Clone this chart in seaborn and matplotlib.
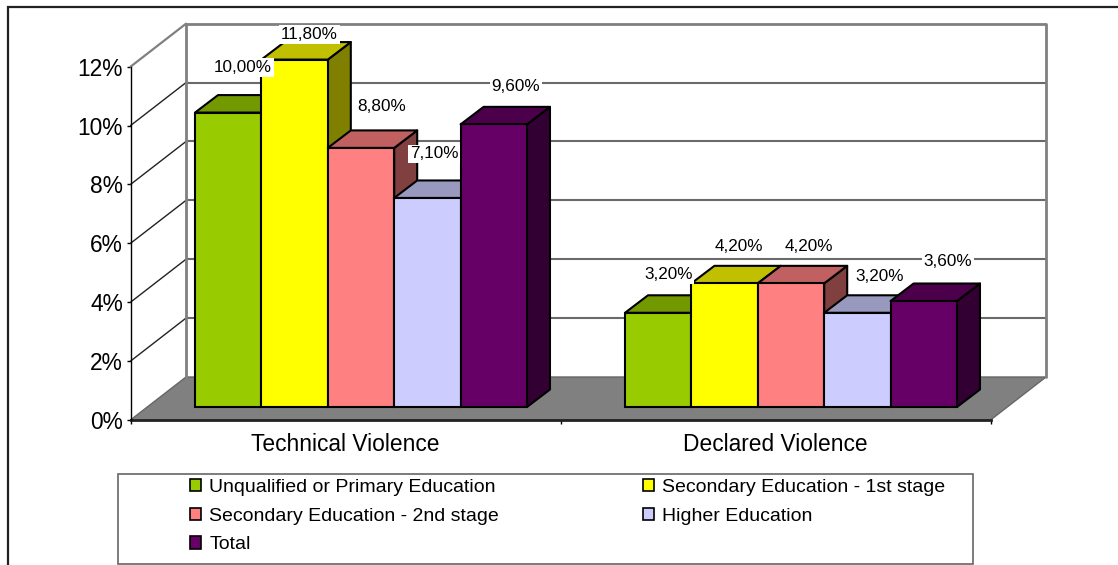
import matplotlib
matplotlib.use("Agg")
import matplotlib.pyplot as plt
import matplotlib.patches as mpatches
from matplotlib.lines import Line2D
from matplotlib.ticker import FuncFormatter, FixedLocator
import pandas as pd
import seaborn as sns

categories = ["Technical Violence", "Declared Violence"]
education = ["Unqualified or Primary Education", "Secondary Education - 1st stage",
             "Secondary Education - 2nd stage", "Higher Education", "Total"]
unqualified = [10.0, 3.2]
secondary_1 = [11.8, 4.2]
secondary_2 = [8.8, 4.2]
higher = [7.1, 3.2]
total = [9.6, 3.6]
y_ticks = [0, 2, 4, 6, 8, 10, 12]

front_colors = ["#99CC00", "#FFFF00", "#FF8080", "#CCCCFF", "#660066"]
top_colors = ["#739900", "#C0C000", "#C06060", "#9999C0", "#4C004C"]
side_colors = ["#4D6600", "#808000", "#804040", "#666680", "#330033"]

W, H = 1118, 565
sns.set_theme(style="white")
plt.rcParams["font.family"] = ["Liberation Sans", "DejaVu Sans"]
fig = plt.figure(figsize=(W / 100, H / 100), dpi=100, facecolor="white")

LEFT, RIGHT, BASE, TOP = 130.5, 990.5, 420.0, 66.7
ax = fig.add_axes([LEFT / W, 1 - BASE / H, (RIGHT - LEFT) / W, (BASE - TOP) / H])
ax.patch.set_alpha(0)

rows = []
for series, vals in zip(education, [unqualified, secondary_1, secondary_2, higher, total]):
    for cat, v in zip(categories, vals):
        rows.append({"category": cat, "education": series, "value": v})
df = pd.DataFrame(rows)

sns.barplot(data=df, x="category", y="value", hue="education", hue_order=education,
            order=categories, palette=front_colors, saturation=1, width=0.772, gap=0,
            edgecolor="black", linewidth=1.5, legend=False, ax=ax, err_kws={"linewidth": 0})

ax.set_xlim(-0.5, 1.5)
ax.set_ylim(0, 12)
px_x = (RIGHT - LEFT) / 2
px_y = (BASE - TOP) / 12

def dxpx(p):
    return p / px_x

def dypx(p):
    return p / px_y

# back wall, side wall and floor
wall_dx, wall_dy = dxpx(55.5), dypx(43)
x0, x1 = -0.5, 1.5
ax.add_patch(mpatches.Polygon([(x0, 0), (x1, 0), (x1 + wall_dx, wall_dy), (x0 + wall_dx, wall_dy)],
                              closed=True, fc="#808080", ec="#666666", lw=1, zorder=1, clip_on=False))
for t in y_ticks:
    yb = t + wall_dy
    top = t == y_ticks[-1]
    if t > 0:
        ax.plot([x0 + wall_dx, x1 + wall_dx], [yb, yb], color="#808080" if top else "#6a6a6a",
                lw=2 if top else 1.5, zorder=1, clip_on=False, solid_capstyle="butt")
        ax.plot([x0, x0 + wall_dx], [t, yb], color="#808080" if top else "#222222",
                lw=1.6 if top else 1, zorder=1, clip_on=False)
ax.plot([x0 + wall_dx] * 2, [wall_dy, 12 + wall_dy], color="#808080", lw=2, zorder=1, clip_on=False)
ax.plot([x1 + wall_dx] * 2, [wall_dy, 12 + wall_dy], color="#808080", lw=2, zorder=1, clip_on=False)

# bars: seaborn front faces, moved back on the floor, then given depth
shift_x, shift_y = dxpx(15.5), dypx(13)
bar_dx, bar_dy = dxpx(23), dypx(17.5)
nudges = [[(15, 45), (10, 38)], [(15, 25), (14, 37)], [(21, 41), (18, 37)],
          [(7, 44), (22, 36)], [(22, 38), (24, 40)]]
z = 3
entries = []
for s, cont in enumerate(ax.containers):
    for c, bar in enumerate(cont.patches):
        entries.append((bar.get_x(), s, c, bar))
for _, s, c, bar in sorted(entries, key=lambda e: e[0]):
    xb = bar.get_x() + shift_x
    yb = bar.get_y() + shift_y
    w, h = bar.get_width(), bar.get_height()
    bar.set_x(xb)
    bar.set_y(yb)
    bar.set_clip_on(False)
    ax.add_patch(mpatches.Polygon(
        [(xb + w, yb), (xb + w + bar_dx, yb + bar_dy), (xb + w + bar_dx, yb + h + bar_dy), (xb + w, yb + h)],
        closed=True, fc=side_colors[s], ec="black", lw=1.5, zorder=z, clip_on=False, joinstyle="round"))
    ax.add_patch(mpatches.Polygon(
        [(xb, yb + h), (xb + w, yb + h), (xb + w + bar_dx, yb + h + bar_dy), (xb + bar_dx, yb + h + bar_dy)],
        closed=True, fc=top_colors[s], ec="black", lw=1.5, zorder=z + 1, clip_on=False, joinstyle="round"))
    bar.set_zorder(z + 2)
    z += 3
    nx, ny = nudges[s][c]
    ax.annotate(f"{h:.2f}%".replace(".", ","), xy=(xb + w / 2, yb + h),
                xytext=(nx * 0.72, ny * 0.72), textcoords="offset points",
                ha="center", va="center", fontsize=12.3, color="black", zorder=100,
                annotation_clip=False,
                bbox=dict(boxstyle="square,pad=0.1", fc="white", ec="none"))

# axes
for side in ("top", "right"):
    ax.spines[side].set_visible(False)
ax.spines["left"].set_color("black")
ax.spines["left"].set_linewidth(1)
ax.spines["bottom"].set_color("#222222")
ax.spines["bottom"].set_linewidth(2)
ax.spines["bottom"].set_zorder(2)
ax.set_yticks(y_ticks)
ax.yaxis.set_major_formatter(FuncFormatter(lambda v, _: f"{int(v)}%"))
ax.tick_params(axis="y", left=True, length=3, width=1, color="black", labelsize=16.4, pad=2.5, labelcolor="black")
ax.set_xticks([0, 1])
ax.set_xticklabels(categories)
ax.tick_params(axis="x", which="major", bottom=False, labelsize=16.4, pad=3.5, labelcolor="black")
ax.xaxis.set_minor_locator(FixedLocator([-0.5, 0.5, 1.5]))
ax.tick_params(axis="x", which="minor", bottom=True, length=3, width=1, color="black")
ax.set_xlabel("")
ax.set_ylabel("")

# outer chart area border and legend box
def fx(p):
    return p / W

def fy(p):
    return 1 - p / H

fig.add_artist(Line2D([fx(8), fx(8), 1], [0, fy(6.5), fy(6.5)], color="#222222", lw=1.6,
                      solid_joinstyle="miter"))
fig.add_artist(mpatches.Rectangle((fx(118), fy(564)), fx(973) - fx(118), fy(473.5) - fy(564),
                                  transform=fig.transFigure, fc="white", ec="#666666", lw=1.2))
order = [0, 2, 4, 1, 3]
handles = [mpatches.Patch(fc=front_colors[i], ec="black", lw=1.2, label=education[i]) for i in order]
fig.legend(handles=handles, ncols=2, frameon=False, loc="upper left",
           bbox_to_anchor=(fx(190), fy(479)), bbox_transform=fig.transFigure,
           borderaxespad=0, borderpad=0, fontsize=14, handlelength=0.58, handleheight=0.58,
           handletextpad=0.41, labelspacing=0.6, columnspacing=7.4, labelcolor="black")

fig.savefig("out.png", dpi=100, facecolor="white")
